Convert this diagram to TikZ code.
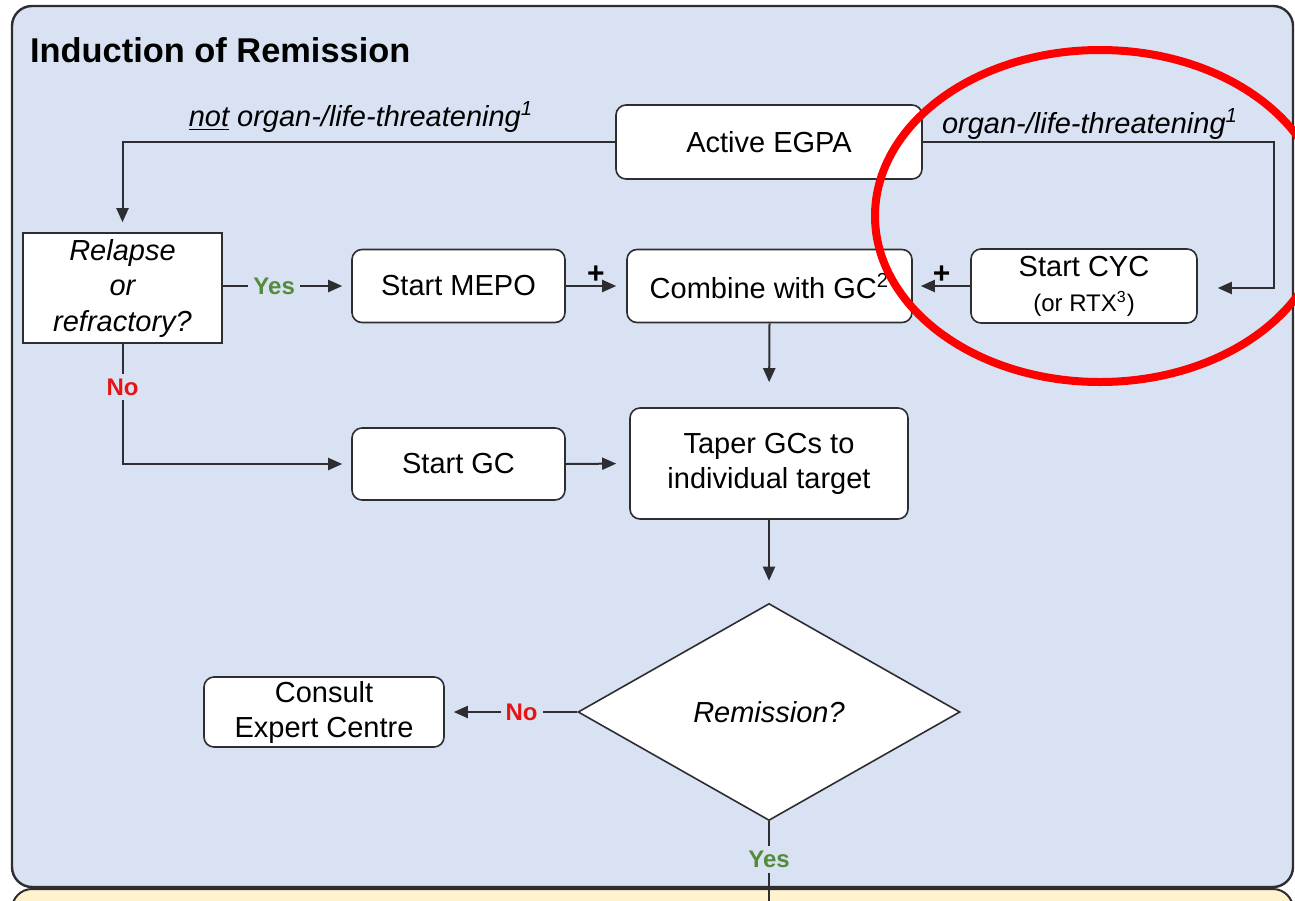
\documentclass[tikz,border=0pt]{standalone}
\usepackage{fontspec}
\setmainfont{Liberation Sans}
\usepackage{tikz}
\usetikzlibrary{positioning,arrows.meta,shapes.geometric}
\definecolor{irPanel}{RGB}{217,226,243}
\definecolor{irYellow}{RGB}{255,242,204}
\definecolor{irGray}{RGB}{45,45,50}
\definecolor{irGreen}{RGB}{84,140,60}
\definecolor{irRed}{RGB}{230,20,20}
\definecolor{irRing}{RGB}{255,0,0}

\begin{document}
\begin{tikzpicture}[x=0.5pt, y=-0.5pt,
  box/.style={draw=irGray, fill=white, line width=0.8pt, rounded corners=5pt, align=center, inner sep=0pt, font=\fontsize{14.5}{17.5}\selectfont},
  conn/.style={draw=irGray, line width=1pt},
  arr/.style={conn, -{Triangle[length=7pt,width=6pt]}},
  yes/.style={fill=irPanel, text=irGreen, inner sep=2.5pt, font=\fontsize{12}{14}\selectfont\bfseries},
  no/.style={fill=irPanel, text=irRed, inner sep=2.5pt, font=\fontsize{12}{14}\selectfont\bfseries},
  plus/.style={inner sep=1pt, font=\fontsize{15}{16}\selectfont\bfseries},
  lbl/.style={font=\fontsize{14.5}{17.5}\selectfont\itshape}]
  \clip (0,0) rectangle (1295,900);

  % Panels
  \fill[white] (0,0) rectangle (1295,900);
  \draw[irGray, line width=1pt, fill=irYellow, rounded corners=10pt] (12,889) rectangle (1293,990);
  \draw[irGray, line width=1.2pt, fill=irPanel, rounded corners=10pt] (12,6) rectangle (1293,887);

  % Title
  \node[anchor=west, font=\fontsize{17.2}{20}\selectfont\bfseries] (title) at (23,50) {Induction of Remission};

  % Boxes
  \node[box, minimum width=153pt, minimum height=37pt] (active) at (769,142) {Active EGPA};
  \node[box, rounded corners=0pt, minimum width=99.5pt, minimum height=55pt, font=\fontsize{14.5}{17.75}\selectfont\itshape] (relapse) at (122.5,288) {Relapse\\or\\refractory?};
  \node[box, minimum width=106.5pt, minimum height=36.5pt] (mepo) at (458.5,286) {Start MEPO};
  \node[box, minimum width=142.5pt, minimum height=36.5pt] (combine) at (769.5,286) {Combine with GC\textsuperscript{2}};
  \node[box, minimum width=113pt, minimum height=37pt] (cyc) at (1084,286) {Start CYC\\{\fontsize{12}{14}\selectfont(or RTX\textsuperscript{3})}};
  \node[box, minimum width=106.5pt, minimum height=36pt] (startgc) at (458.5,464) {Start GC};
  \node[box, minimum width=139pt, minimum height=55.5pt] (taper) at (769,463.5) {Taper GCs to\\individual target};
  \node[box, diamond, rounded corners=0pt, aspect=1.76, minimum width=191pt, minimum height=108.5pt] (remission) at (769,712) {\itshape Remission?};
  \node[box, minimum width=120pt, minimum height=35pt] (consult) at (324,712) {Consult\\Expert Centre};

  % Branch labels
  \node[lbl] (notthreat) at (361,117) {\underline{not} organ-/life-threatening\textsuperscript{1}};
  \node[lbl] (threat) at (1090,124) {organ-/life-threatening\textsuperscript{1}};

  % Connectors
  \coordinate (rturn) at (1274,288);
  \coordinate (nextstep) at (769,905);
  \draw[arr, shorten >=5pt] (active.west) -| (relapse.north);
  \draw[arr, shorten >=10pt] (active.east) -| (rturn) -- (rturn -| cyc.east);
  \draw[arr, shorten >=4.5pt] (relapse.east |- mepo.west) -- node[yes, pos=0.4] {Yes} (mepo.west);
  \draw[arr, shorten >=4.5pt] (relapse.south) |- node[no, pos=0.18] {No} (startgc.west);
  \draw[arr, shorten >=5pt] (mepo.east) -- node[plus, above] {+} (combine.west);
  \draw[arr, shorten >=4pt] (cyc.west) -- node[plus, above] {+} (combine.east);
  \draw[arr, shorten >=12.5pt] (combine.south) -- (taper.north);
  \draw[arr, shorten >=6.5pt] (startgc.east) -- (taper.west);
  \draw[arr, shorten >=11pt] (taper.south) -- (remission.north);
  \draw[arr, shorten >=4.5pt] (remission.west) -- node[no, pos=0.42] {No} (consult.east);
  \draw[conn] (remission.south) -- node[yes, pos=0.46] {Yes} (nextstep);

  % Highlight ring
  \draw[irRing, line width=4pt] (1100,216) ellipse [x radius=112.5pt, y radius=83pt];
\end{tikzpicture}
\end{document}
